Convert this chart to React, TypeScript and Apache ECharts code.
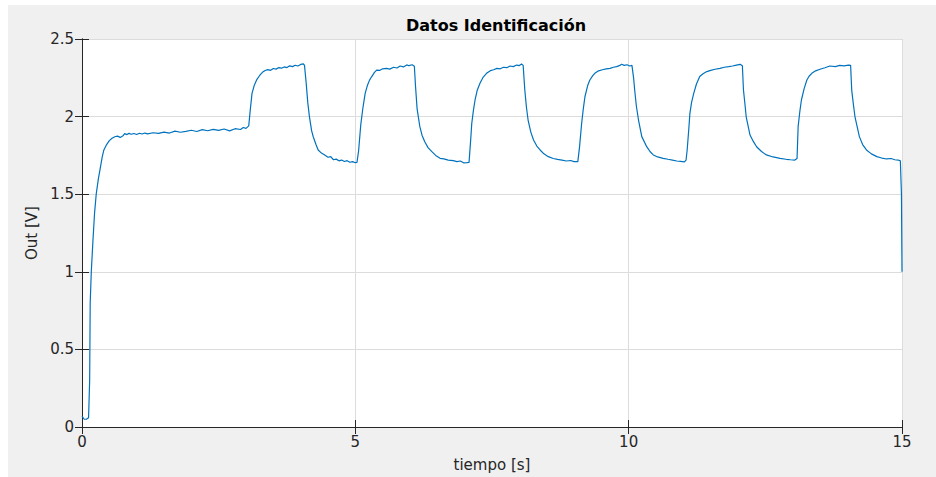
import React, { useEffect, useRef } from "react";
import * as echarts from "echarts";

// tiempo [s]
const tiempo = [
  0, 0.04, 0.08, 0.12, 0.14, 0.15, 0.17, 0.2, 0.23, 0.26, 0.3, 0.33, 0.37, 0.4, 0.45, 0.5, 0.55, 0.6, 0.65, 0.7,
  0.75, 0.78, 0.82, 0.86, 0.9, 0.95, 1.0, 1.05, 1.1, 1.15, 1.2, 1.3, 1.4, 1.5, 1.6, 1.7, 1.8, 1.9, 2.0, 2.1,
  2.2, 2.3, 2.4, 2.5, 2.6, 2.7, 2.8, 2.9, 2.95, 3.0, 3.05,
  3.08, 3.11, 3.15, 3.2, 3.25, 3.3, 3.35, 3.4, 3.45, 3.5, 3.55, 3.6, 3.65, 3.7, 3.75, 3.8, 3.85, 3.9, 3.95, 4.0, 4.05, 4.07,
  4.1, 4.13, 4.16, 4.2, 4.23, 4.28, 4.32, 4.38, 4.44, 4.5, 4.55, 4.6, 4.65, 4.7, 4.75, 4.8, 4.85, 4.9, 4.95, 5.0, 5.03,
  5.06, 5.1, 5.14, 5.18, 5.22, 5.26, 5.3, 5.35, 5.39, 5.45, 5.5, 5.57, 5.63, 5.7, 5.76, 5.82, 5.88, 5.94, 5.98, 6.04, 6.08,
  6.1, 6.13, 6.18, 6.22, 6.27, 6.33, 6.4, 6.47, 6.55, 6.62, 6.7, 6.79, 6.86, 6.92, 6.98, 7.04, 7.08,
  7.11, 7.13, 7.16, 7.19, 7.23, 7.28, 7.34, 7.4, 7.47, 7.53, 7.59, 7.65, 7.71, 7.77, 7.83, 7.89, 7.95, 8.0, 8.04, 8.07,
  8.1, 8.13, 8.16, 8.21, 8.26, 8.32, 8.38, 8.45, 8.53, 8.62, 8.7, 8.78, 8.86, 8.94, 9.0, 9.07,
  9.1, 9.14, 9.17, 9.2, 9.25, 9.29, 9.34, 9.38, 9.45, 9.52, 9.59, 9.66, 9.72, 9.78, 9.84, 9.87, 9.92, 9.97, 10.02, 10.06,
  10.09, 10.11, 10.14, 10.18, 10.24, 10.33, 10.39, 10.45, 10.53, 10.63, 10.72, 10.8, 10.88, 10.95, 11.02, 11.05,
  11.07, 11.1, 11.12, 11.15, 11.19, 11.24, 11.3, 11.36, 11.43, 11.5, 11.58, 11.67, 11.75, 11.83, 11.9, 11.97, 12.04, 12.08,
  12.1, 12.13, 12.15, 12.22, 12.28, 12.34, 12.43, 12.52, 12.64, 12.77, 12.88, 12.96, 13.04, 13.08,
  13.1, 13.13, 13.16, 13.21, 13.26, 13.3, 13.35, 13.42, 13.5, 13.59, 13.68, 13.78, 13.86, 13.94, 14.02, 14.06,
  14.08, 14.11, 14.14, 14.22, 14.28, 14.35, 14.44, 14.54, 14.63, 14.72, 14.8, 14.87, 14.93, 14.97, 14.99, 15.0,
];

// Out [V]
const salida = [
  0.07, 0.05, 0.05, 0.06, 0.3, 0.8, 1.0, 1.2, 1.38, 1.5, 1.6, 1.66, 1.74, 1.785, 1.82, 1.845, 1.86, 1.87, 1.874, 1.866,
  1.876, 1.89, 1.884, 1.892, 1.886, 1.891, 1.885, 1.893, 1.888, 1.894, 1.889, 1.896, 1.892, 1.9, 1.894, 1.906, 1.899, 1.905, 1.912, 1.904,
  1.916, 1.909, 1.918, 1.911, 1.92, 1.908, 1.922, 1.917, 1.93, 1.924, 1.94,
  2.05, 2.15, 2.2, 2.24, 2.265, 2.285, 2.297, 2.303, 2.298, 2.31, 2.306, 2.316, 2.312, 2.32, 2.316, 2.327, 2.322, 2.331, 2.326, 2.336, 2.34, 2.33,
  2.22, 2.09, 2.0, 1.91, 1.87, 1.82, 1.785, 1.765, 1.752, 1.738, 1.742, 1.722, 1.726, 1.715, 1.72, 1.711, 1.716, 1.706, 1.71, 1.703, 1.705,
  1.78, 1.95, 2.06, 2.15, 2.2, 2.235, 2.258, 2.285, 2.3, 2.298, 2.308, 2.311, 2.306, 2.318, 2.313, 2.326, 2.32, 2.333, 2.328, 2.334, 2.325,
  2.2, 2.05, 1.935, 1.88, 1.838, 1.8, 1.774, 1.75, 1.731, 1.728, 1.72, 1.716, 1.71, 1.714, 1.702, 1.703, 1.705,
  1.85, 1.957, 2.04, 2.107, 2.17, 2.215, 2.255, 2.279, 2.296, 2.302, 2.311, 2.308, 2.318, 2.315, 2.326, 2.322, 2.332, 2.329, 2.339, 2.33,
  2.171, 2.06, 1.978, 1.9, 1.849, 1.81, 1.785, 1.76, 1.742, 1.73, 1.724, 1.72, 1.714, 1.717, 1.71, 1.71,
  1.8, 1.957, 2.05, 2.128, 2.2, 2.236, 2.262, 2.279, 2.295, 2.302, 2.308, 2.311, 2.318, 2.322, 2.33, 2.337, 2.33, 2.334, 2.326, 2.33,
  2.25, 2.171, 2.07, 1.978, 1.871, 1.806, 1.775, 1.753, 1.74, 1.731, 1.725, 1.72, 1.714, 1.712, 1.708, 1.72,
  1.785, 1.92, 2.021, 2.09, 2.15, 2.21, 2.258, 2.276, 2.29, 2.298, 2.305, 2.311, 2.318, 2.322, 2.326, 2.332, 2.337, 2.328,
  2.171, 2.07, 1.999, 1.881, 1.84, 1.806, 1.775, 1.753, 1.74, 1.731, 1.725, 1.722, 1.72, 1.73,
  1.935, 2.03, 2.107, 2.18, 2.236, 2.26, 2.279, 2.295, 2.305, 2.315, 2.326, 2.322, 2.33, 2.327, 2.332, 2.33,
  2.171, 2.08, 1.999, 1.871, 1.82, 1.785, 1.76, 1.742, 1.733, 1.727, 1.73, 1.722, 1.72, 1.715, 1.5, 1.0,
];

const titulo = "Datos Identificación";
const ejeX = "tiempo [s]";
const ejeY = "Out [V]";

const FONT = "'DejaVu Sans', Verdana, sans-serif";
const AX = "#262626";

export default function App() {
  const ref = useRef<HTMLDivElement>(null);
  useEffect(() => {
    document.body.style.margin = "0";
    if (!ref.current) return;
    const chart = echarts.init(ref.current, undefined, { renderer: "svg" });
    const data = tiempo.map((t, i) => [t, salida[i]]);
    const tickCommon = { show: true, inside: true, length: 7, lineStyle: { color: AX, width: 1 } };
    chart.setOption({
      animation: false,
      backgroundColor: "#f0f0f0",
      textStyle: { fontFamily: FONT },
      title: {
        text: titulo,
        left: 483,
        top: 7,
        textAlign: "center",
        textStyle: { fontSize: 16, fontWeight: "bold", color: "#000", fontFamily: FONT },
      },
      grid: {
        left: 74,
        top: 34,
        right: 34,
        bottom: 50,
        show: true,
        backgroundColor: "#ffffff",
        borderWidth: 0,
      },
      xAxis: [
        {
          type: "value",
          min: 0,
          max: 15,
          interval: 5,
          position: "bottom",
          name: ejeX,
          nameLocation: "middle",
          nameGap: 30,
          nameTextStyle: { fontSize: 15, color: AX, fontFamily: FONT },
          axisLine: { show: true, lineStyle: { color: AX, width: 1 } },
          axisTick: tickCommon,
          axisLabel: { fontSize: 15, color: AX, margin: 7, fontFamily: FONT },
          splitLine: { show: true, lineStyle: { color: "#dcdcdc", width: 1 } },
        },
        {
          type: "value",
          min: 0,
          max: 15,
          interval: 5,
          position: "top",
          axisLine: { show: true, lineStyle: { color: AX, width: 1 } },
          axisTick: tickCommon,
          axisLabel: { show: false },
          splitLine: { show: false },
        },
      ],
      yAxis: [
        {
          type: "value",
          min: 0,
          max: 2.5,
          interval: 0.5,
          position: "left",
          name: ejeY,
          nameLocation: "middle",
          nameGap: 42,
          nameTextStyle: { fontSize: 15, color: AX, fontFamily: FONT },
          axisLine: { show: true, lineStyle: { color: AX, width: 1 } },
          axisTick: tickCommon,
          axisLabel: { fontSize: 15, color: AX, margin: 8, fontFamily: FONT },
          splitLine: { show: true, lineStyle: { color: "#dcdcdc", width: 1 } },
        },
        {
          type: "value",
          min: 0,
          max: 2.5,
          interval: 0.5,
          position: "right",
          axisLine: { show: true, lineStyle: { color: AX, width: 1 } },
          axisTick: tickCommon,
          axisLabel: { show: false },
          splitLine: { show: false },
        },
      ],
      series: [
        {
          type: "line",
          data,
          xAxisIndex: 0,
          yAxisIndex: 0,
          showSymbol: false,
          symbol: "none",
          lineStyle: { color: "#0072BD", width: 1.2 },
          z: 3,
        },
      ],
    });
    return () => chart.dispose();
  }, []);
  return (
    <div style={{ position: "relative", width: 936, height: 477, background: "#ffffff" }}>
      <div ref={ref} style={{ position: "absolute", left: 8, top: 5, width: 928, height: 472 }} />
    </div>
  );
}
